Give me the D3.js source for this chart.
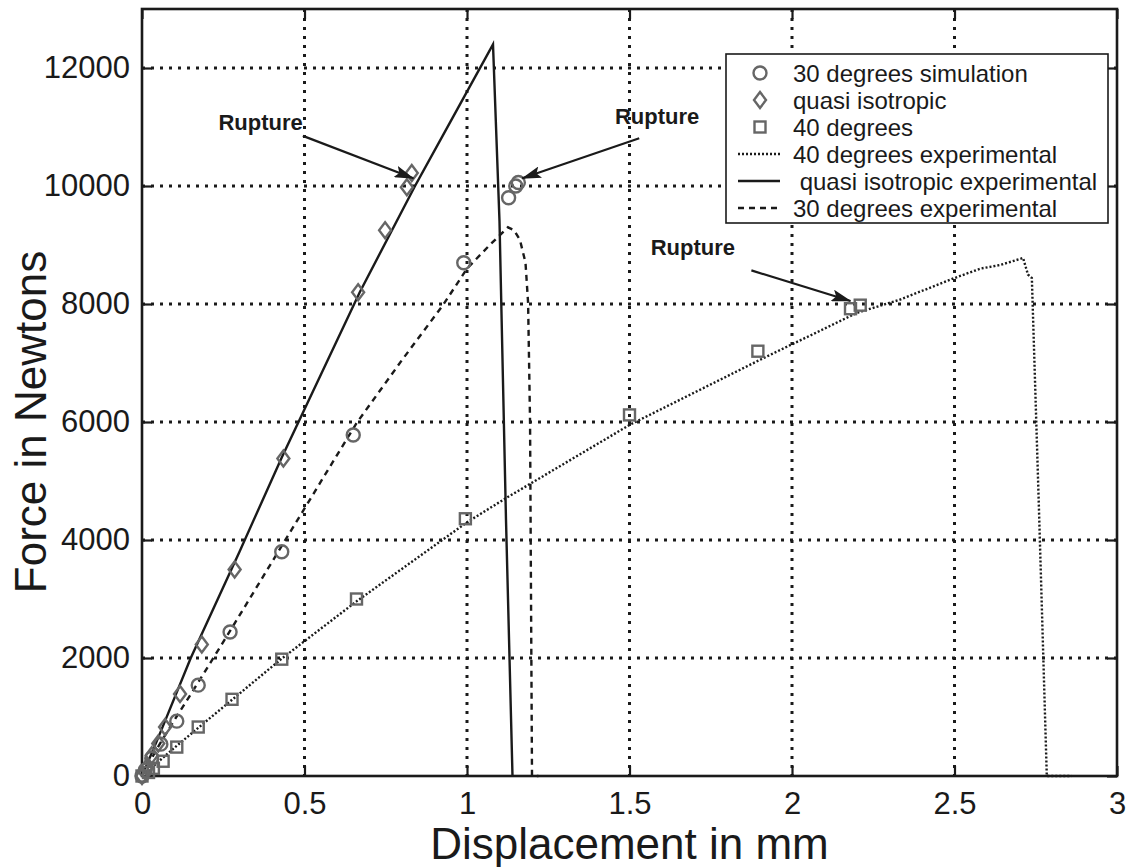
<!DOCTYPE html>
<html>
<head>
<meta charset="utf-8">
<script src="https://cdn.jsdelivr.net/npm/d3@7/dist/d3.min.js"></script>
<style>
  html, body { margin: 0; padding: 0; background: #ffffff; }
  svg { display: block; font-family: "Liberation Sans", Arial, Helvetica, sans-serif; }
</style>
</head>
<body>
<svg id="chart" width="1129" height="867"></svg>
<script>
// ---------- data ----------
const xTicks = [0, 0.5, 1, 1.5, 2, 2.5, 3];
const yTicks = [0, 2000, 4000, 6000, 8000, 10000, 12000];
const xTickLabels = ["0", "0.5", "1", "1.5", "2", "2.5", "3"];
const yTickLabels = ["0", "2000", "4000", "6000", "8000", "10000", "12000"];

// 30 degrees simulation (circles)
const sim30X = [0, 0.01, 0.03, 0.058, 0.107, 0.173, 0.271, 0.43, 0.65, 0.99, 1.128, 1.15, 1.158];
const sim30Y = [0, 100, 300, 540, 930, 1540, 2440, 3800, 5780, 8700, 9800, 10000, 10060];

// quasi isotropic simulation (diamonds)
const quasiX = [0, 0.015, 0.03, 0.05, 0.071, 0.117, 0.184, 0.285, 0.435, 0.665, 0.748, 0.815, 0.83];
const quasiY = [0, 150, 350, 550, 830, 1390, 2230, 3500, 5380, 8200, 9250, 9980, 10220];

// 40 degrees simulation (squares)
const deg40X = [0, 0.02, 0.035, 0.065, 0.107, 0.173, 0.277, 0.43, 0.66, 0.995, 1.5, 1.895, 2.18, 2.21];
const deg40Y = [0, 60, 130, 250, 490, 830, 1300, 1980, 3000, 4360, 6120, 7200, 7920, 7980];

// 40 degrees experimental (dotted)
const exp40X = [0, 0.1, 0.2, 0.43, 0.66, 1.0, 1.12, 1.5, 1.9, 2.2, 2.33, 2.5, 2.58, 2.64, 2.711, 2.726, 2.738, 2.76, 2.784, 2.82, 2.86];
const exp40Y = [0, 480, 940, 1990, 2960, 4300, 4710, 5950, 7050, 7850, 8070, 8440, 8600, 8660, 8780, 8500, 8440, 4500, 0, 0, 0];

// quasi isotropic experimental (solid)
const expQuasiX = [0, 0.05, 0.15, 0.3, 0.43, 0.67, 0.84, 0.95, 1.08, 1.10, 1.12, 1.14];
const expQuasiY = [0, 650, 2000, 3800, 5400, 8200, 10000, 11100, 12400, 9400, 4340, 0];

// 30 degrees experimental (dashed)
const exp30X = [0, 0.05, 0.1, 0.17, 0.27, 0.43, 0.578, 0.66, 0.8, 0.926, 1.0, 1.07, 1.126, 1.145, 1.163, 1.18, 1.188, 1.194, 1.198, 1.2, 1.22];
const exp30Y = [0, 500, 950, 1560, 2450, 3900, 5240, 5980, 7050, 7980, 8600, 9000, 9300, 9250, 9085, 8700, 8020, 6000, 2000, 0, 0];

const legendLabels = ["30 degrees simulation", "quasi isotropic", "40 degrees",
                      "40 degrees experimental", " quasi isotropic experimental", "30 degrees experimental"];

// rupture annotations
const ruptureText = ["Rupture", "Rupture", "Rupture"];
const ruptureLabelX = [0.235, 1.455, 1.565];
const ruptureLabelY = [10950, 11050, 8830];
const ruptureTailX = [0.495, 1.53, 1.875];
const ruptureTailY = [10850, 10810, 8570];
const ruptureHeadX = [0.835, 1.17, 2.18];
const ruptureHeadY = [10130, 10130, 8050];

// ---------- layout ----------
const svg = d3.select("#chart");
const L = 142, R = 1117, T = 9, B = 776;
const x = d3.scaleLinear().domain([0, 3]).range([L, R]);
const y = d3.scaleLinear().domain([0, 13000]).range([B, T]);

const ink = "#1a1a1a";
const markerGrey = "#666666";

svg.append("rect").attr("width", 1129).attr("height", 867).attr("fill", "#ffffff");

// grid
const grid = svg.append("g");
grid.selectAll(".gx").data(xTicks.slice(1, -1)).join("line")
  .attr("x1", d => x(d)).attr("x2", d => x(d)).attr("y1", T).attr("y2", B)
  .attr("stroke", ink).attr("stroke-width", 3).attr("stroke-dasharray", "3,6");
grid.selectAll(".gy").data(yTicks.slice(1)).join("line")
  .attr("x1", L).attr("x2", R).attr("y1", d => y(d)).attr("y2", d => y(d))
  .attr("stroke", ink).attr("stroke-width", 3).attr("stroke-dasharray", "3,6");

// axes
const fmtX = (d, i) => xTickLabels[i];
const fmtY = (d, i) => yTickLabels[i];
const axB = svg.append("g").attr("transform", `translate(0,${B})`)
  .call(d3.axisBottom(x).tickValues(xTicks).tickFormat(fmtX).tickSizeInner(-10).tickSizeOuter(0).tickPadding(16));
const axL = svg.append("g").attr("transform", `translate(${L},0)`)
  .call(d3.axisLeft(y).tickValues(yTicks).tickFormat(fmtY).tickSizeInner(-10).tickSizeOuter(0).tickPadding(12));
const axT = svg.append("g").attr("transform", `translate(0,${T})`)
  .call(d3.axisTop(x).tickValues(xTicks).tickFormat("").tickSizeInner(-10).tickSizeOuter(0));
const axR = svg.append("g").attr("transform", `translate(${R},0)`)
  .call(d3.axisRight(y).tickValues(yTicks).tickFormat("").tickSizeInner(-10).tickSizeOuter(0));
[axB, axL, axT, axR].forEach(g => {
  g.select(".domain").remove();
  g.selectAll("line").attr("stroke", ink).attr("stroke-width", 2.2);
  g.selectAll("text").attr("fill", ink).attr("font-size", 31)
    .attr("font-family", "'Liberation Sans', Arial, sans-serif");
});
svg.append("rect").attr("x", L).attr("y", T).attr("width", R - L).attr("height", B - T)
  .attr("fill", "none").attr("stroke", ink).attr("stroke-width", 2.6);

// axis titles
svg.append("text").attr("x", (L + R) / 2).attr("y", 859).attr("text-anchor", "middle")
  .attr("font-size", 44).attr("fill", ink).text("Displacement in mm");
svg.append("text").attr("transform", `translate(46,422) rotate(-90)`)
  .attr("text-anchor", "middle").attr("font-size", 44).attr("fill", ink).text("Force in Newtons");

// lines
const lineGen = d3.line().x(d => x(d[0])).y(d => y(d[1]));
const zip = (a, b) => a.map((v, i) => [v, b[i]]);
const plot = svg.append("g");
plot.append("path").datum(zip(exp40X, exp40Y)).attr("d", lineGen)
  .attr("fill", "none").attr("stroke", ink).attr("stroke-width", 2.4).attr("stroke-dasharray", "2,2");
plot.append("path").datum(zip(expQuasiX, expQuasiY)).attr("d", lineGen)
  .attr("fill", "none").attr("stroke", ink).attr("stroke-width", 2.4);
plot.append("path").datum(zip(exp30X, exp30Y)).attr("d", lineGen)
  .attr("fill", "none").attr("stroke", ink).attr("stroke-width", 2.4).attr("stroke-dasharray", "6,5");

// markers
const drawCircle = (g, cx, cy) => g.append("circle").attr("cx", cx).attr("cy", cy).attr("r", 6.5)
  .attr("fill", "none").attr("stroke", markerGrey).attr("stroke-width", 2.4);
const drawDiamond = (g, cx, cy) => g.append("path")
  .attr("d", `M${cx},${cy - 8}L${cx + 6},${cy}L${cx},${cy + 8}L${cx - 6},${cy}Z`)
  .attr("fill", "none").attr("stroke", markerGrey).attr("stroke-width", 2.4);
const drawSquare = (g, cx, cy) => g.append("rect").attr("x", cx - 5.5).attr("y", cy - 5.5)
  .attr("width", 11).attr("height", 11)
  .attr("fill", "none").attr("stroke", markerGrey).attr("stroke-width", 2.4);

const mk = svg.append("g");
sim30X.forEach((v, i) => drawCircle(mk, x(v), y(sim30Y[i])));
quasiX.forEach((v, i) => drawDiamond(mk, x(v), y(quasiY[i])));
deg40X.forEach((v, i) => drawSquare(mk, x(v), y(deg40Y[i])));

// rupture annotations
const defs = svg.append("defs");
defs.append("marker").attr("id", "arrow").attr("viewBox", "0 0 20 12")
  .attr("refX", 19).attr("refY", 6).attr("markerWidth", 20).attr("markerHeight", 12)
  .attr("markerUnits", "userSpaceOnUse").attr("orient", "auto")
  .append("path").attr("d", "M0,0L20,6L0,12L4,6Z").attr("fill", ink);
const ann = svg.append("g");
ruptureText.forEach((t, i) => {
  ann.append("text").attr("x", x(ruptureLabelX[i])).attr("y", y(ruptureLabelY[i]))
    .attr("font-size", 22).attr("font-weight", "bold").attr("fill", ink).text(t);
  ann.append("line")
    .attr("x1", x(ruptureTailX[i])).attr("y1", y(ruptureTailY[i]))
    .attr("x2", x(ruptureHeadX[i])).attr("y2", y(ruptureHeadY[i]))
    .attr("stroke", ink).attr("stroke-width", 2.2).attr("marker-end", "url(#arrow)");
});

// legend
const lg = svg.append("g");
lg.append("rect").attr("x", 726).attr("y", 54).attr("width", 382).attr("height", 169)
  .attr("fill", "#ffffff").attr("stroke", ink).attr("stroke-width", 1.6);
const rowY = i => 73 + i * 27;
drawCircle(lg, 760, rowY(0));
drawDiamond(lg, 760, rowY(1));
drawSquare(lg, 760, rowY(2));
lg.append("line").attr("x1", 738).attr("x2", 780).attr("y1", rowY(3)).attr("y2", rowY(3))
  .attr("stroke", ink).attr("stroke-width", 2.4).attr("stroke-dasharray", "2,2");
lg.append("line").attr("x1", 738).attr("x2", 780).attr("y1", rowY(4)).attr("y2", rowY(4))
  .attr("stroke", ink).attr("stroke-width", 2.4);
lg.append("line").attr("x1", 738).attr("x2", 780).attr("y1", rowY(5)).attr("y2", rowY(5))
  .attr("stroke", ink).attr("stroke-width", 2.4).attr("stroke-dasharray", "6,5");
legendLabels.forEach((t, i) => {
  lg.append("text").attr("x", 793).attr("y", rowY(i) + 8.5).attr("font-size", 24)
    .attr("fill", ink).style("white-space", "pre").text(t);
});
</script>
</body>
</html>
